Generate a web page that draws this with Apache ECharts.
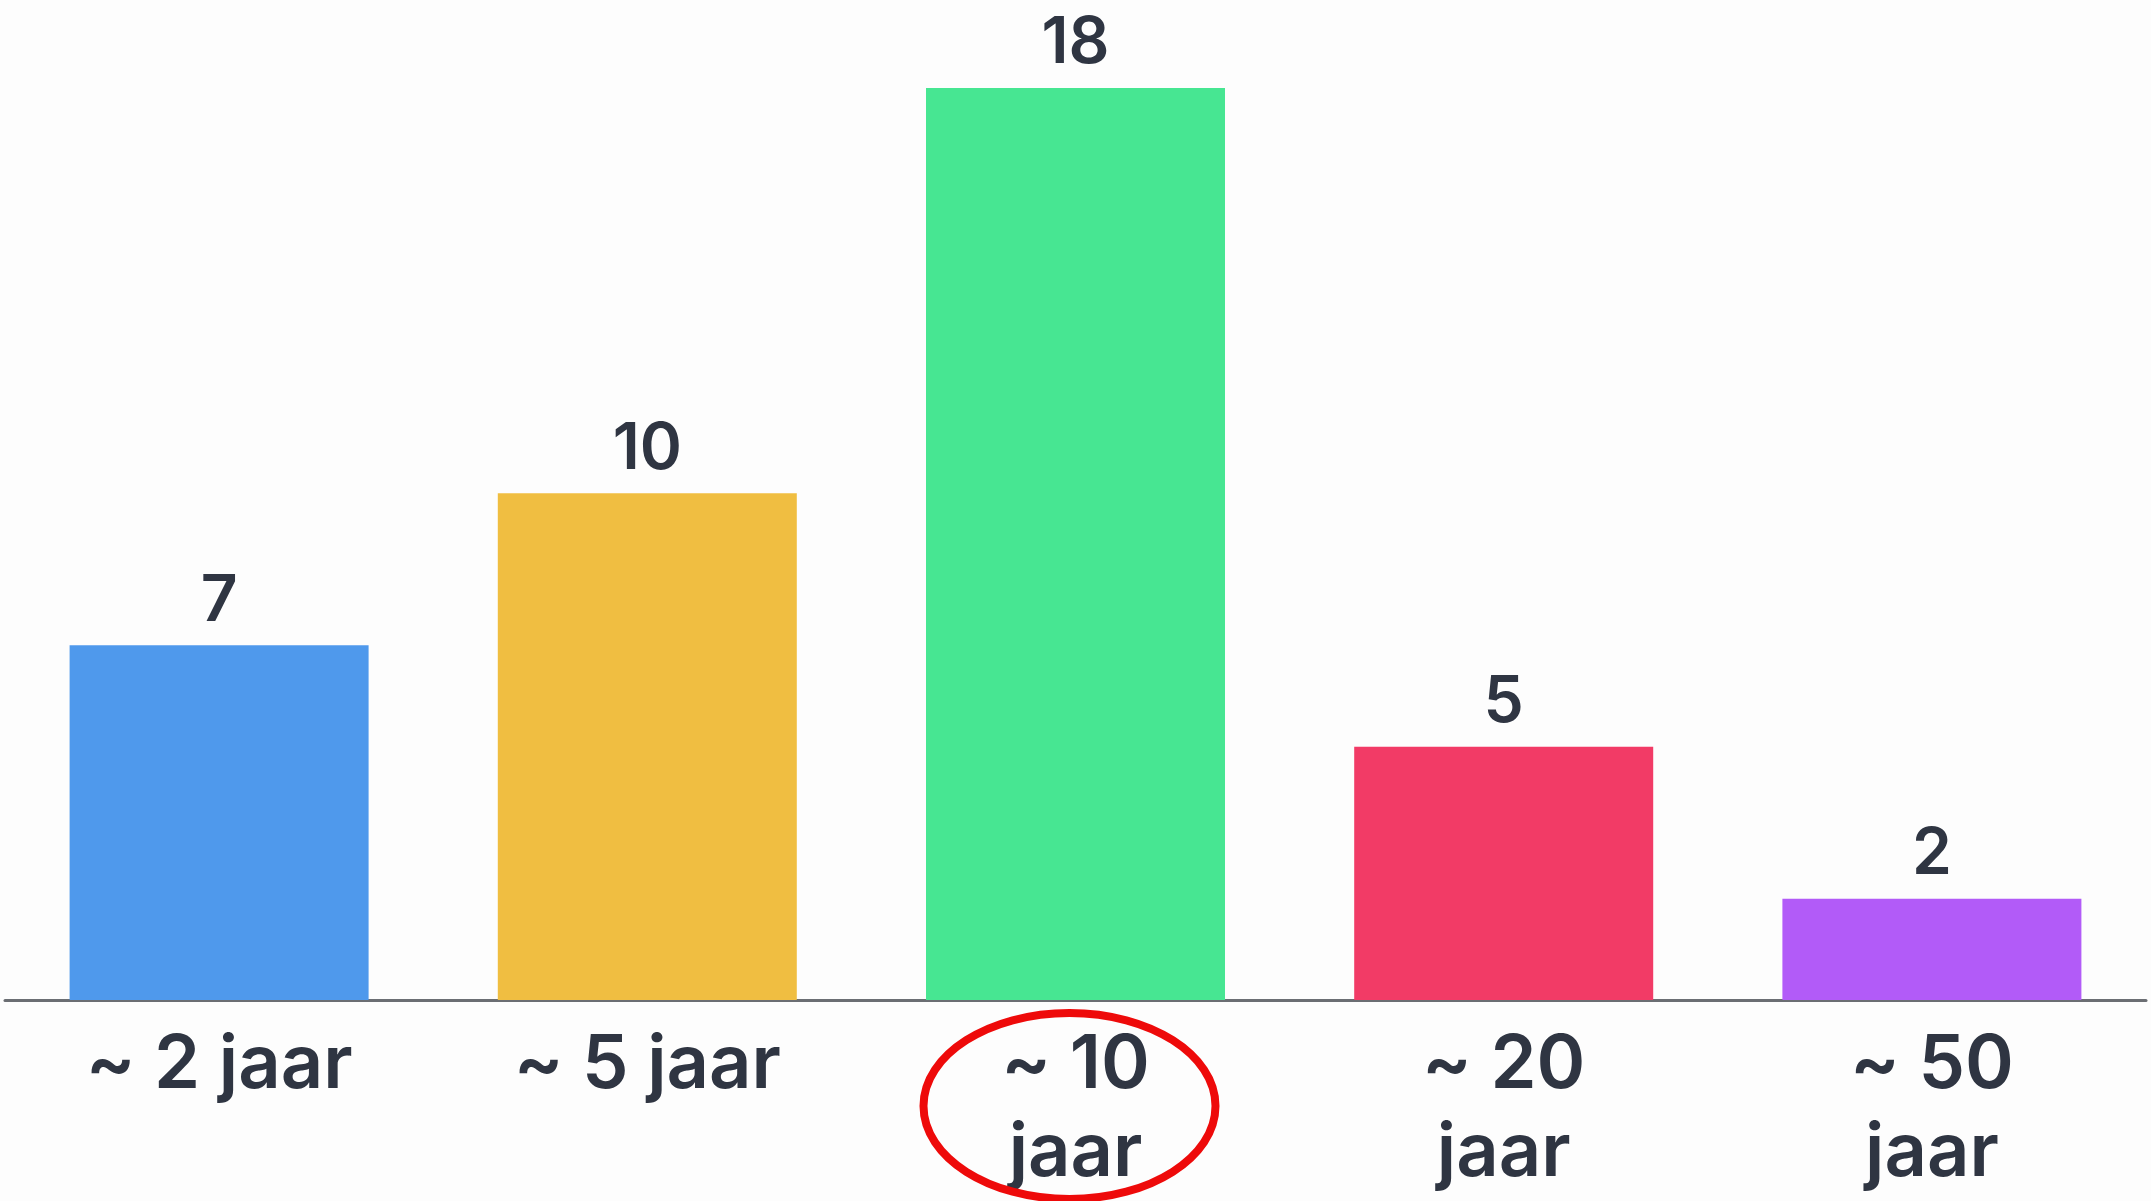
<!DOCTYPE html>
<html>
<head>
<meta charset="utf-8">
<script src="https://cdn.jsdelivr.net/npm/echarts@6/dist/echarts.min.js"></script>
<style>
  html, body { margin: 0; padding: 0; background: #fdfdfd; }
  #chart { width: 2151px; height: 1201px; }
</style>
</head>
<body>
<div id="chart"></div>
<script>
// category labels (explicit line breaks as in the picture)
var categories = ["~ 2 jaar", "~ 5 jaar", "~ 10\njaar", "~ 20\njaar", "~ 50\njaar"];
var counts = [7, 10, 18, 5, 2];
var barColors = ["#4f99ec", "#f0be41", "#47e692", "#f23b66", "#b25bf8"];
var highlighted = "~ 10\njaar"; // circled in red

var textColor = "#2f3542";
var fontFamily = "Inter, 'Noto Sans', sans-serif";

var chart = echarts.init(document.getElementById("chart"));

chart.setOption({
    backgroundColor: "#fdfdfd",
    animation: false,
    grid: { left: 5, right: 5, top: 88, bottom: 201 },
    xAxis: {
        type: "category",
        data: categories,
        axisLine: { lineStyle: { color: "#6b6e73", width: 3 } },
        axisTick: { show: false },
        axisLabel: {
            color: textColor,
            fontFamily: fontFamily,
            fontSize: 74,
            fontWeight: 600,
            lineHeight: 88,
            margin: 22,
            interval: 0
        }
    },
    yAxis: {
        type: "value",
        min: 0,
        max: 18,
        show: false,
        splitLine: { show: false }
    },
    series: [{
        type: "bar",
        barWidth: 299,
        data: counts.map(function (v, i) {
            return { value: v, itemStyle: { color: barColors[i] } };
        }),
        label: {
            show: true,
            position: "top",
            distance: 12,
            color: textColor,
            fontFamily: fontFamily,
            fontSize: 64,
            fontWeight: 600
        }
    }]
});

// red hand-drawn style ellipse round the highlighted label
var cx = chart.convertToPixel({ xAxisIndex: 0 }, highlighted);
chart.setOption({
    graphic: [{
        type: "ellipse",
        shape: { cx: cx - 6, cy: 1106, rx: 146, ry: 93 },
        style: { fill: "none", stroke: "#ee0a0a", lineWidth: 8 },
        z: 100
    }]
});
</script>
</body>
</html>
